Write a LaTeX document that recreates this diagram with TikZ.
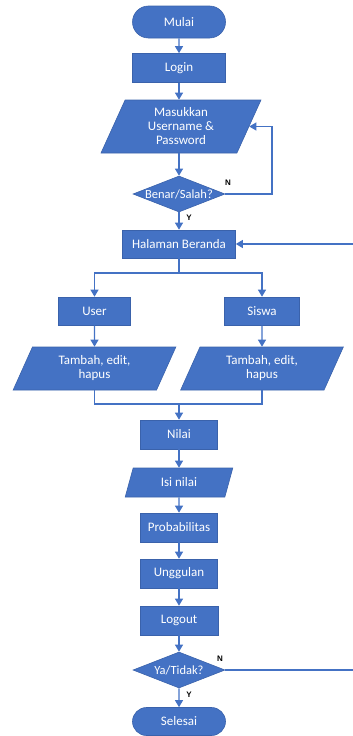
\documentclass[tikz,border=0pt]{standalone}
\usepackage{fontspec}
\setmainfont{Carlito}
\newfontfamily\lblfont{Liberation Sans}
\usepackage{tikz}
\usetikzlibrary{arrows.meta}
\usetikzlibrary{positioning}
\usetikzlibrary{shapes.geometric,shapes.misc}
\definecolor{fcblue}{HTML}{4472C4}
\definecolor{fcedge}{HTML}{3A62AB}
\tikzset{
  box/.style={draw=fcedge, line width=0.6pt, fill=fcblue, text=white, inner sep=0pt,
    font=\fontsize{13}{14}\selectfont, align=center},
  proc/.style={box, rectangle, minimum width=#1, minimum height=29pt},
  term/.style={box, rounded rectangle, minimum width=93pt, minimum height=#1},
  io/.style={box, trapezium, trapezium stretches=true, trapezium left angle=#1,
    trapezium right angle=180-#1},
  dec/.style={box, diamond, aspect=2.6, minimum width=92pt, minimum height=36pt,
    font=\fontsize{12.5}{14}\selectfont},
  flow/.style={draw=fcblue, line width=1.1pt, -{Triangle[width=8pt,length=7pt]}},
  line/.style={draw=fcblue, line width=1.1pt},
  lbl/.style={font=\lblfont\bfseries\fontsize{8}{9}\selectfont, inner sep=0pt}
}
\begin{document}
\begin{tikzpicture}[x=1pt, y=-1pt]
\useasboundingbox (0,0) rectangle (353,736);
% main column
\node[term=32pt] (mulai) at (179,22) {Mulai};
\node[proc=93pt] (login) at (179,68) {Login};
\node[io=69, minimum width=161pt, minimum height=53pt] (masuk) at (181,126.5) {Masukkan\\Username \&\\Password};
\node[dec] (benar) at (179,194) {Benar/Salah?};
\node[proc=113pt, minimum height=28pt] (halaman) at (179,244) {Halaman Beranda};
% two branches
\node[proc=72pt, minimum height=28pt] (user) at (94.5,311) {User};
\node[proc=75pt, minimum height=28pt] (siswa) at (262,311) {Siswa};
\node[io=66, minimum width=163pt, minimum height=43pt] (tambahA) at (94.5,368.5) {Tambah, edit,\\hapus};
\node[io=66, minimum width=163pt, minimum height=43pt] (tambahB) at (262,368.5) {Tambah, edit,\\hapus};
\node[proc=77pt] (nilai) at (179,434.5) {Nilai};
\node[io=71, minimum width=108pt, minimum height=29pt] (isi) at (179,482.5) {Isi nilai};
\node[proc=77pt] (prob) at (179,527.5) {Probabilitas};
\node[proc=77pt] (unggul) at (179,573.5) {Unggulan};
\node[proc=78pt] (logout) at (179,620.5) {Logout};
\node[dec] (yatidak) at (179,670) {Ya/Tidak?};
\node[term=28pt] (selesai) at (179,721.5) {Selesai};
% helper points
\coordinate (split) at (179,273);
\coordinate (merge) at (179,404);
\coordinate (loopx) at (272,0);
\coordinate (edgex) at (357,0);
% labels
\node[lbl] (n1) at (228,183) {N};
\node[lbl] (y1) at (189,218) {Y};
\node[lbl] (n2) at (220,659) {N};
\node[lbl] (y2) at (189,695) {Y};
% connectors
\draw[flow] (mulai) -- (login);
\draw[flow] (login.south) -- (login.south |- masuk.north);
\draw[flow] (login.south |- masuk.south) -- (benar.north);
\draw[flow] (benar.east) -- (benar.east -| loopx) |- (masuk.east);
\draw[flow] (benar.south) -- (halaman.north);
\draw[line] (halaman.south) -- (split);
\draw[flow] (split) -| (user.north);
\draw[flow] (split) -| (siswa.north);
\draw[flow] (user) -- (tambahA);
\draw[flow] (siswa) -- (tambahB);
\draw[line] (tambahA.south) |- (merge);
\draw[line] (tambahB.south) |- (merge);
\draw[flow] (merge) -- (nilai.north);
\draw[flow] (nilai) -- (isi);
\draw[flow] (isi) -- (prob);
\draw[flow] (prob) -- (unggul);
\draw[flow] (unggul) -- (logout);
\draw[flow] (logout) -- (yatidak);
\draw[flow] (yatidak) -- (selesai);
\draw[flow] (yatidak.east) -- (yatidak.east -| edgex) -- (halaman.east -| edgex) -- (halaman.east);
\end{tikzpicture}
\end{document}
